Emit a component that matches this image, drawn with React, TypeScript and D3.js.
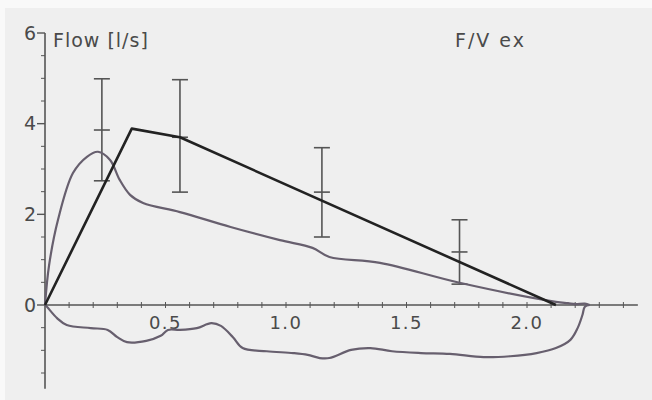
import React from "react";
import * as d3 from "d3";

const W = 652;
const H = 400;

// Axis ticks
const xMajorTicks = [0.5, 1.0, 1.5, 2.0];
const xTickLabels = ["0.5", "1.0", "1.5", "2.0"];
const yMajorTicks = [0, 2, 4, 6];
const yTickLabels = ["0", "2", "4", "6"];

// Predicted curve (volume l, flow l/s)
const predVol = [0, 0.36, 0.56, 2.12];
const predFlow = [0, 3.89, 3.7, 0];

// Reference ranges: volume, lower, mean, upper
const barVol = [0.236, 0.56, 1.149, 1.72];
const barLow = [2.74, 2.49, 1.5, 0.46];
const barMid = [3.86, 3.7, 2.49, 1.17];
const barHigh = [4.99, 4.97, 3.47, 1.88];

// Measured expiratory curve
const expVol = [0, 0.017, 0.054, 0.116, 0.174, 0.22, 0.27, 0.31, 0.353, 0.407, 0.56, 0.77, 0.975, 1.11, 1.18, 1.39, 1.72, 2.12, 2.17, 2.2, 2.24, 2.26];
const expFlow = [0, 0.88, 1.88, 2.91, 3.27, 3.38, 3.2, 2.76, 2.43, 2.25, 2.05, 1.72, 1.43, 1.26, 1.06, 0.93, 0.49, 0.07, 0.04, 0.02, 0.03, 0];

// Measured inspiratory curve
const inspVol = [0, 0.008, 0.05, 0.09, 0.19, 0.26, 0.3, 0.34, 0.42, 0.48, 0.51, 0.56, 0.63, 0.69, 0.73, 0.78, 0.82, 0.92, 1.03, 1.09, 1.14, 1.18, 1.27, 1.35, 1.44, 1.56, 1.68, 1.82, 1.93, 2.04, 2.12, 2.18, 2.21, 2.23, 2.24, 2.26];
const inspFlow = [0, -0.04, -0.29, -0.44, -0.51, -0.55, -0.71, -0.82, -0.79, -0.68, -0.55, -0.55, -0.51, -0.4, -0.46, -0.71, -0.95, -1.02, -1.06, -1.1, -1.17, -1.17, -0.99, -0.95, -1.02, -1.06, -1.08, -1.15, -1.13, -1.06, -0.95, -0.77, -0.51, -0.22, -0.04, 0];

const x = d3.scaleLinear().domain([0, 1]).range([45, 286]);
const y = d3.scaleLinear().domain([0, 6]).range([305, 33]);

const FONT = "'DejaVu Sans', Verdana, sans-serif";
const TXT = "#4a4a4a";
const AX = "#555";

export default function App() {
  const line = d3
    .line<[number, number]>()
    .x((d) => x(d[0]))
    .y((d) => y(d[1]));
  const smooth = d3
    .line<[number, number]>()
    .x((d) => x(d[0]))
    .y((d) => y(d[1]))
    .curve(d3.curveCatmullRom.alpha(0.5));

  const pred: [number, number][] = predVol.map((v, i) => [v, predFlow[i]]);
  const exp: [number, number][] = expVol.map((v, i) => [v, expFlow[i]]);
  const insp: [number, number][] = inspVol.map((v, i) => [v, inspFlow[i]]);

  const xMinor = d3.range(1, 25).map((i) => i / 10);
  const yMinor = d3.range(-3, 12).map((i) => i / 2).filter((v) => !yMajorTicks.includes(v));

  const x0 = x(0);
  const y0 = y(0);

  return (
    <svg
      width={W}
      height={H}
      style={{ position: "absolute", left: 0, top: 0, display: "block" }}
    >
      <rect x={0} y={0} width={W} height={H} fill="#f9f9f9" />
      <rect x={5} y={8} width={W - 5} height={H - 8} fill="#efefef" />

      {/* axes */}
      <line x1={x0} x2={x0} y1={y(6)} y2={y(-1.85)} stroke={AX} strokeWidth={1.6} />
      <line x1={x0} x2={x(2.46)} y1={y0} y2={y0} stroke={AX} strokeWidth={1.6} />

      {/* x ticks */}
      {xMinor.map((v) => (
        <line key={"xm" + v} x1={x(v)} x2={x(v)} y1={y0 - 3} y2={y0 + 3} stroke={AX} strokeWidth={1} />
      ))}
      {xMajorTicks.map((v, i) => (
        <text
          key={"xl" + v}
          x={x(v)}
          y={y0 + 24}
          textAnchor="middle"
          fontFamily={FONT}
          fontSize={18}
          letterSpacing={1.5}
          fill={TXT}
        >
          {xTickLabels[i]}
        </text>
      ))}

      {/* y ticks */}
      {yMinor.map((v) => (
        <line key={"ym" + v} x1={x0 - 4} x2={x0} y1={y(v)} y2={y(v)} stroke={AX} strokeWidth={1} />
      ))}
      {yMajorTicks.map((v, i) => (
        <g key={"yl" + v}>
          <line x1={x0 - 8} x2={x0} y1={y(v)} y2={y(v)} stroke={AX} strokeWidth={1.4} />
          <text
            x={x0 - 9}
            y={y(v) + 6.5}
            textAnchor="end"
            fontFamily={FONT}
            fontSize={19}
            fill={TXT}
          >
            {yTickLabels[i]}
          </text>
        </g>
      ))}

      {/* titles */}
      <text x={53} y={47} fontFamily={FONT} fontSize={19} fill={TXT} letterSpacing={1}>
        Flow [l/s]
      </text>
      <text x={455} y={47} fontFamily={FONT} fontSize={19} fill={TXT} letterSpacing={2}>
        F/V ex
      </text>

      {/* reference ranges */}
      {barVol.map((v, i) => (
        <g key={"b" + i} stroke="#555" strokeWidth={1.6}>
          <line x1={x(v)} x2={x(v)} y1={y(barLow[i])} y2={y(barHigh[i])} />
          <line x1={x(v) - 8} x2={x(v) + 8} y1={y(barLow[i])} y2={y(barLow[i])} />
          <line x1={x(v) - 8} x2={x(v) + 8} y1={y(barMid[i])} y2={y(barMid[i])} />
          <line x1={x(v) - 8} x2={x(v) + 8} y1={y(barHigh[i])} y2={y(barHigh[i])} />
        </g>
      ))}

      {/* measured curve */}
      <path d={smooth(exp) ?? ""} fill="none" stroke="#675f6e" strokeWidth={2.2} />
      <path d={smooth(insp) ?? ""} fill="none" stroke="#675f6e" strokeWidth={2.2} />

      {/* predicted curve */}
      <path d={line(pred) ?? ""} fill="none" stroke="#222" strokeWidth={2.6} strokeLinejoin="round" />
    </svg>
  );
}
